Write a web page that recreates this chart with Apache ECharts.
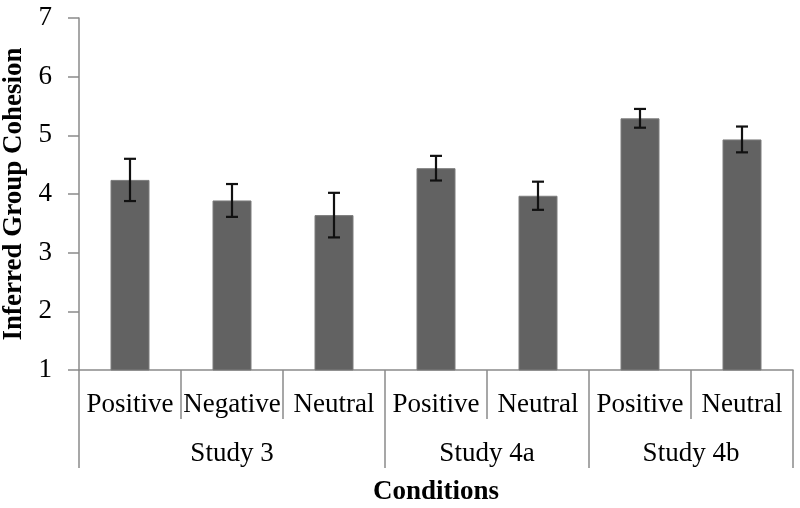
<!DOCTYPE html>
<html>
<head>
<meta charset="utf-8">
<script src="https://cdn.jsdelivr.net/npm/echarts@6/dist/echarts.min.js"></script>
<style>html,body{margin:0;padding:0;background:#fff;}#c{width:800px;height:508px;}</style>
</head>
<body>
<div id="c"></div>
<script>
const conditions = ['Positive', 'Negative', 'Neutral', 'Positive', 'Neutral', 'Positive', 'Neutral'];
const means = [4.24, 3.89, 3.64, 4.44, 3.97, 5.29, 4.93];
const errors = [0.36, 0.28, 0.38, 0.21, 0.24, 0.16, 0.22];
const studies = ['Study 3', 'Study 4a', 'Study 4b'];
const studyCenters = [1.5, 4, 6];
const studyBounds = [0, 3, 5, 7];
const yTicks = [1, 2, 3, 4, 5, 6, 7];

const FONT = "'Liberation Serif', 'Times New Roman', serif";
const AXIS = '#8a8a8a';

const chart = echarts.init(document.getElementById('c'), null, {renderer: 'canvas'});
const errData = means.map((m, i) => [i, m, errors[i]]);

chart.setOption({
  animation: false,
  backgroundColor: '#fff',
  grid: {left: 79, right: 7, top: 18, bottom: 138, containLabel: false, outerBoundsMode: 'none'},
  xAxis: [
    {
      type: 'category',
      data: conditions,
      position: 'bottom',
      axisLine: {show: true, lineStyle: {color: AXIS, width: 1.5}},
      axisTick: {show: true, interval: 0, length: 49, lineStyle: {color: AXIS, width: 1.5}},
      axisLabel: {interval: 0, color: '#000', fontFamily: FONT, fontSize: 27, margin: 21, lineHeight: 27}
    },
    {
      type: 'value',
      min: 0, max: 7,
      position: 'bottom',
      axisLine: {show: false},
      splitLine: {show: false},
      axisTick: {show: true, customValues: studyBounds, length: 98, lineStyle: {color: AXIS, width: 1.5}},
      axisLabel: {
        customValues: studyCenters,
        formatter: function (v) { const k = studyCenters.indexOf(v); return k >= 0 ? studies[k] : ''; },
        color: '#000', fontFamily: FONT, fontSize: 27, margin: 70, lineHeight: 27
      },
      name: 'Conditions',
      nameLocation: 'middle',
      nameGap: 109,
      nameTextStyle: {color: '#000', fontFamily: FONT, fontSize: 27, fontWeight: 'bold', lineHeight: 27}
    }
  ],
  yAxis: {
    type: 'value',
    min: 1, max: 7, interval: 1,
    axisLine: {show: true, lineStyle: {color: AXIS, width: 1.5}},
    axisTick: {show: true, length: 11, lineStyle: {color: AXIS, width: 1.5}},
    splitLine: {show: false},
    axisLabel: {color: '#000', fontFamily: FONT, fontSize: 27, margin: 27,
      formatter: function (v) { return yTicks.indexOf(v) >= 0 ? String(v) : ''; }},
    name: 'Inferred Group Cohesion',
    nameLocation: 'middle',
    nameGap: 50,
    nameTextStyle: {color: '#000', fontFamily: FONT, fontSize: 27, fontWeight: 'bold', lineHeight: 27}
  },
  series: [
    {
      type: 'bar',
      xAxisIndex: 0,
      data: means,
      barWidth: 39,
      itemStyle: {color: '#626262', borderColor: '#7c7c7c', borderWidth: 1}
    },
    {
      type: 'custom',
      xAxisIndex: 0,
      data: errData,
      z: 10,
      renderItem: function (params, api) {
        const i = api.value(0), m = api.value(1), e = api.value(2);
        const top = api.coord([i, m + e]);
        const bot = api.coord([i, m - e]);
        const hw = 6;
        const st = {stroke: '#111', lineWidth: 2.2};
        return {
          type: 'group',
          children: [
            {type: 'line', shape: {x1: top[0], y1: top[1], x2: bot[0], y2: bot[1]}, style: st},
            {type: 'line', shape: {x1: top[0] - hw, y1: top[1], x2: top[0] + hw, y2: top[1]}, style: st},
            {type: 'line', shape: {x1: bot[0] - hw, y1: bot[1], x2: bot[0] + hw, y2: bot[1]}, style: st}
          ]
        };
      }
    }
  ]
});
</script>
</body>
</html>
